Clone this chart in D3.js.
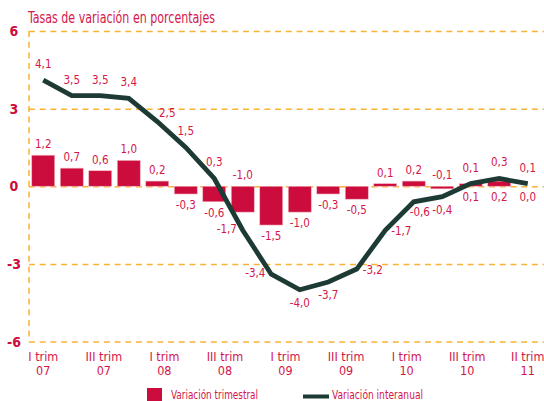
<!DOCTYPE html>
<html lang="es">
<head>
<meta charset="UTF-8">
<title>Tasas de variación</title>
<script src="https://cdn.jsdelivr.net/npm/d3@7"></script>
<style>
  body { margin: 0; background: #fff; }
  svg text { font-family: "DejaVu Sans Condensed", "DejaVu Sans", sans-serif; font-stretch: condensed; }
  .grid line, .grid path { stroke: #f9b233; stroke-width: 1.5; stroke-dasharray: 6,4.7; fill: none; }
</style>
</head>
<body>
<script>
// datos
const quarters = ["I 07","II 07","III 07","IV 07","I 08","II 08","III 08","IV 08",
                  "I 09","II 09","III 09","IV 09","I 10","II 10","III 10","IV 10","I 11","II 11"]
const trimestral = [1.2, 0.7, 0.6, 1.0, 0.2, -0.3, -0.6, -1.0, -1.5, -1.0, -0.3, -0.5, 0.1, 0.2, -0.1, 0.1, 0.2, 0.0]
const interanual = [4.1, 3.5, 3.5, 3.4, 2.5, 1.5, 0.3, -1.7, -3.4, -4.0, -3.7, -3.2, -1.7, -0.6, -0.4, 0.1, 0.3, 0.1]
const tickLabels = [["I trim","07"],["III trim","07"],["I trim","08"],["III trim","08"],["I trim","09"],
                    ["III trim","09"],["I trim","10"],["III trim","10"],["II trim","11"]]
const yTicks = [6, 3, 0, -3, -6]

// where each value label goes (annotation layout)
const barLabelAbove = [1,1,1,1,1,0,0,1,0,0,0,0,1,1,1,0,0,0]
const lineLabelPos = ["n","n","n","n","ne","n","n","w","w","s","s","e","e","se","s","n","n","n"]

const w = 544, h = 401
const red = "#cc0c3c", txt = "#d4164a", dark = "#1d3a34"
const fmt = v => v.toFixed(1).replace(".", ",")

const svg = d3.select("body").append("svg").attr("width", w).attr("height", h)

const x = d3.scaleBand().domain(d3.range(quarters.length)).range([29, 542])
  .paddingInner(0.193).paddingOuter(0.0965)
const y = d3.scaleLinear().domain([-6, 6]).range([341.5, 31])
const bw = x.bandwidth()
const cx = i => x(i) + bw / 2

// titulo
svg.append("text").attr("x", 28).attr("y", 23)
  .attr("font-size", 15).attr("fill", txt)
  .attr("textLength", 187).attr("lengthAdjust", "spacingAndGlyphs")
  .text("Tasas de variación en porcentajes")

// grid
svg.append("g").attr("class", "grid")
  .attr("transform", "translate(29,0)")
  .call(d3.axisRight(y).tickValues(yTicks).tickSize(w - 29).tickFormat(""))
  .call(g => g.select(".domain").remove())

svg.append("line").attr("class", "vaxis")
  .attr("x1", 29).attr("x2", 29).attr("y1", y(6)).attr("y2", y(-6))
  .attr("stroke", "#f9b233").attr("stroke-width", 1.5).attr("stroke-dasharray", "6,4.7")

// y labels
svg.selectAll(".ylab").data(yTicks).enter().append("text")
  .attr("class", "ylab")
  .attr("x", 14).attr("y", d => y(d) + 5)
  .attr("text-anchor", "middle")
  .attr("font-size", 14).attr("font-weight", "bold").attr("fill", red)
  .text(d => d)

// barras
svg.selectAll(".bar").data(trimestral).enter().append("rect")
  .attr("class", "bar")
  .attr("x", (d, i) => x(i)).attr("width", bw)
  .attr("y", d => y(Math.max(0, d)))
  .attr("height", d => Math.abs(y(d) - y(0)))
  .attr("fill", red).attr("stroke", "#f3b7c5").attr("stroke-width", 0.6)

// linea
const line = d3.line().x((d, i) => cx(i)).y(d => y(d))
svg.append("path").datum(interanual)
  .attr("d", line).attr("fill", "none")
  .attr("stroke", dark).attr("stroke-width", 4.8).attr("stroke-linejoin", "miter")

// etiquetas barras
svg.selectAll(".blab").data(trimestral).enter().append("text")
  .attr("class", "blab")
  .attr("x", (d, i) => cx(i))
  .attr("y", (d, i) => barLabelAbove[i] ? y(Math.max(0, d)) - 7 : y(Math.min(0, d)) + 15)
  .attr("text-anchor", "middle").attr("font-size", 11.5).attr("fill", txt)
  .text(fmt)

// etiquetas linea
const off = { n: [0, -12], s: [0, 17], w: [-16, 3], e: [16, 5], ne: [10, -5], se: [6, 14] }
svg.selectAll(".llab").data(interanual).enter().append("text")
  .attr("class", "llab")
  .attr("x", (d, i) => cx(i) + off[lineLabelPos[i]][0])
  .attr("y", (d, i) => y(d) + off[lineLabelPos[i]][1])
  .attr("text-anchor", "middle").attr("font-size", 11.5).attr("fill", txt)
  .text(fmt)

// eje x
const xt = d3.scalePoint().domain(d3.range(tickLabels.length)).range([cx(0), cx(quarters.length - 1)])
const tl = svg.selectAll(".xlab").data(tickLabels).enter().append("text")
  .attr("class", "xlab")
  .attr("text-anchor", "middle").attr("font-size", 12.5).attr("fill", txt)
tl.append("tspan").attr("x", (d, i) => xt(i)).attr("y", 361).text(d => d[0])
tl.append("tspan").attr("x", (d, i) => xt(i)).attr("y", 375).text(d => d[1])

// leyenda
const lg = svg.append("g")
lg.append("rect").attr("x", 147).attr("y", 388).attr("width", 15).attr("height", 13).attr("fill", red)
lg.append("text").attr("x", 171).attr("y", 399).attr("font-size", 12.5).attr("fill", txt)
  .attr("textLength", 87).attr("lengthAdjust", "spacingAndGlyphs").text("Variación trimestral")
lg.append("line").attr("x1", 303).attr("x2", 329).attr("y1", 396.5).attr("y2", 396.5)
  .attr("stroke", dark).attr("stroke-width", 4)
lg.append("text").attr("x", 332).attr("y", 399).attr("font-size", 12.5).attr("fill", txt)
  .attr("textLength", 91).attr("lengthAdjust", "spacingAndGlyphs").text("Variación interanual")
</script>
</body>
</html>
